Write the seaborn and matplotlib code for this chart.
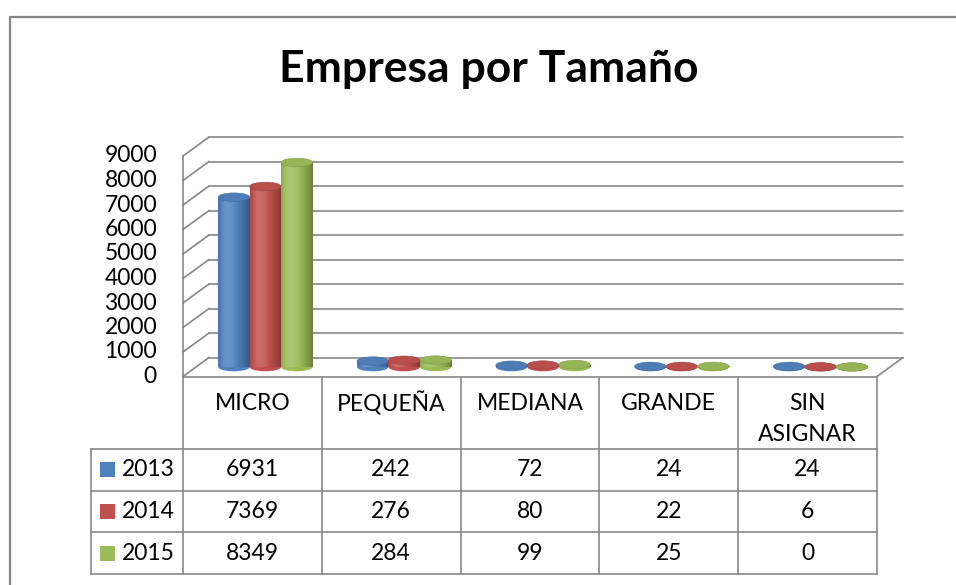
import numpy as np
import pandas as pd
import matplotlib
matplotlib.use("Agg")
import matplotlib.pyplot as plt
import seaborn as sns
from matplotlib.patches import Ellipse, Rectangle
from matplotlib.lines import Line2D
from matplotlib import colors as mcolors

# ---------------- data ----------------
categories = ["MICRO", "PEQUEÑA", "MEDIANA", "GRANDE", "SIN ASIGNAR"]
years = ["2013", "2014", "2015"]
v2013 = [6931, 242, 72, 24, 24]
v2014 = [7369, 276, 80, 22, 6]
v2015 = [8349, 284, 99, 25, 0]
series = [v2013, v2014, v2015]
yticks = list(range(0, 9001, 1000))
title = "Empresa por Tamaño"

palette = ["#4F81BD", "#C0504D", "#9BBB59"]
grid_col = "#878787"

sns.set_theme(style="white")
plt.rcParams["font.family"] = ["Lato", "DejaVu Sans"]

W, H = 956, 585
fig = plt.figure(figsize=(W / 100, H / 100), dpi=100)
fig.patch.set_facecolor("white")


def fx(px):
    return px / W


def fy(py):
    return 1 - py / H


# ---------------- geometry (pixels) ----------------
front_left, front_right = 183, 877
base_front = 376.5          # value 0 on the front plane
span = 220.5                # pixel height of 0..9000
depth_dx, depth_dy = 26, 19  # front -> back offset
mid_left = front_left + depth_dx / 2
mid_base = base_front - depth_dy / 2

ax = fig.add_axes([fx(mid_left), fy(mid_base), (front_right - front_left) / W, span / H])

df = pd.DataFrame({
    "Tamaño": np.tile(categories, len(years)),
    "Año": np.repeat(years, len(categories)),
    "Empresas": np.concatenate(series),
})
sns.barplot(data=df, x="Tamaño", y="Empresas", hue="Año", palette=palette,
            width=0.68, saturation=1, legend=False, errorbar=None, ax=ax)
ax.set_xlim(-0.5, len(categories) - 0.5)
ax.set_ylim(0, 9000)
ax.set_axis_off()

ux = len(categories) / (front_right - front_left)   # data units per px (x)
uy = 9000 / span                                     # data units per px (y)
ddx = depth_dx / 2 * ux
ddy = depth_dy / 2 * uy
xl, xr = -0.5, len(categories) - 0.5

lw = 1.2
# back wall gridlines + left wall diagonals
for t in yticks:
    ax.add_line(Line2D([xl + ddx, xr + ddx], [t + ddy, t + ddy], color=grid_col,
                       lw=lw, clip_on=False, zorder=1))
    ax.add_line(Line2D([xl - ddx, xl + ddx], [t - ddy, t + ddy], color=grid_col,
                       lw=lw, clip_on=False, zorder=1))
# left wall front edge
ax.add_line(Line2D([xl - ddx, xl - ddx], [-ddy, 9000 - ddy], color=grid_col,
                   lw=lw, clip_on=False, zorder=1))
# floor front edge and right diagonal
ax.add_line(Line2D([xl - ddx, xr - ddx], [-ddy, -ddy], color=grid_col,
                   lw=lw, clip_on=False, zorder=1))
ax.add_line(Line2D([xr - ddx, xr + ddx], [-ddy, ddy], color=grid_col,
                   lw=lw, clip_on=False, zorder=1))

# y tick labels on the front plane
for t in yticks:
    ax.text(xl - ddx - 26 * ux, t - ddy, f"{t}", ha="right", va="center",
            fontsize=16.5, color="black", clip_on=False)


# ---------------- cylinders ----------------
def shade_row(base, n=80):
    c = np.array(mcolors.to_rgb(base))
    u = np.linspace(0, 1, n)
    k = (0.16 * np.exp(-((u - 0.3) / 0.24) ** 2)
         - 0.12 * np.exp(-(u / 0.12) ** 2)
         - 0.32 * np.clip((u - 0.45) / 0.55, 0, 1) ** 1.6)
    out = np.empty((1, n, 3))
    for j, kk in enumerate(k):
        out[0, j] = c + (1 - c) * kk if kk > 0 else c * (1 + kk)
    return np.clip(out, 0, 1)


eh = 8.5 * uy  # ellipse height in data units
for i, cont in enumerate(ax.containers):
    base = palette[i]
    grad = shade_row(base)
    z0 = 3 + i * 0.5
    c = np.array(mcolors.to_rgb(base))
    for bar in cont:
        x0, w, h = bar.get_x(), bar.get_width(), bar.get_height()
        xc = x0 + w / 2
        # bottom cap
        bot = Ellipse((xc, 0), w, eh, facecolor=base, edgecolor="none",
                      zorder=z0, clip_on=False)
        ax.add_patch(bot)
        im = ax.imshow(grad, extent=[x0, x0 + w, -eh / 2, eh / 2], aspect="auto",
                       zorder=z0 + 0.05, interpolation="bilinear")
        im.set_clip_box(None)
        im.set_clip_path(bot)
        # body
        bar.set_zorder(z0 + 0.1)
        bar.set_edgecolor("none")
        if h > 0:
            im2 = ax.imshow(grad, extent=[x0, x0 + w, 0, h], aspect="auto",
                            zorder=z0 + 0.15, interpolation="bilinear")
            im2.set_clip_box(None)
            im2.set_clip_path(bar)
        # top cap
        top_fc = c * 0.97
        top_ec = c * 0.82
        ax.add_patch(Ellipse((xc, h), w, eh, facecolor=top_fc, edgecolor=top_ec,
                             lw=0.4, zorder=z0 + 0.2, clip_on=False))

ax.set_xlim(-0.5, len(categories) - 0.5)
ax.set_ylim(0, 9000)

# ---------------- data table ----------------
tab_left, tab_top, tab_bot = 91, 378, 574
tax = fig.add_axes([fx(tab_left), fy(tab_bot), (front_right - tab_left) / W,
                    (tab_bot - tab_top) / H])
leg_units = (front_left - tab_left) * ux
tx0 = xl - leg_units
nrows = len(years)
hdr = 1.7
tax.set_xlim(tx0, xr)
tax.set_ylim(0, nrows + hdr)
tax.set_axis_off()

tl = dict(color=grid_col, lw=lw, clip_on=False)
for r in range(nrows + 1):
    tax.add_line(Line2D([tx0, xr], [r, r], **tl))
tax.add_line(Line2D([tx0, tx0], [0, nrows], **tl))
for k in range(len(categories) + 1):
    tax.add_line(Line2D([xl + k, xl + k], [0, nrows + hdr], **tl))

fs = 16.5
for j, cat in enumerate(categories):
    lines = cat.split(" ")
    for li, s in enumerate(lines):
        tax.text(j, nrows + hdr - 0.62 - li * 0.74, s, ha="center", va="center",
                 fontsize=fs, color="black")

for i, (yr, vals) in enumerate(zip(years, series)):
    yc = nrows - i - 0.5
    sq = 15 * ux
    tax.add_patch(Rectangle((tx0 + 9 * ux, yc - 0.18), sq, 0.36,
                            facecolor=palette[i], edgecolor="none"))
    tax.text(tx0 + 31 * ux, yc, yr, ha="left", va="center", fontsize=fs, color="black")
    for j, v in enumerate(vals):
        tax.text(j, yc, f"{v}", ha="center", va="center", fontsize=fs, color="black")

# ---------------- title & border ----------------
fig.text(fx(489), fy(69), title, ha="center", va="center", fontsize=32,
         fontweight="bold", color="black")
fig.add_artist(Line2D([fx(10), fx(10), 1.0], [0, fy(17), fy(17)], color=grid_col,
                      lw=1.6, transform=fig.transFigure))

fig.savefig("out.png", dpi=100)
